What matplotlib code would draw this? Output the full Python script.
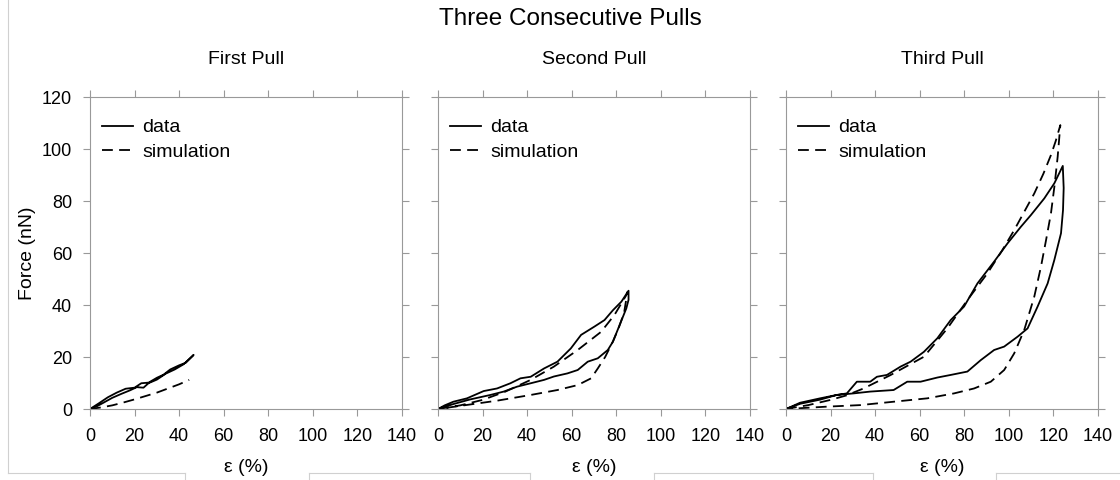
import matplotlib
matplotlib.use("Agg")
import matplotlib.pyplot as plt
from matplotlib.lines import Line2D

plt.rcParams['font.family'] = ['Liberation Sans', 'DejaVu Sans']

# ---- data (strain in %, force in nN) ----
# first pull
p1_data_x = [0, 4, 8, 12, 16, 20, 23, 27, 30, 34, 38, 42, 46.5,
             43, 40, 36, 33, 30, 27, 24, 21, 18, 14, 10, 6, 3, 0]
p1_data_y = [0, 2.2, 4.5, 6.3, 7.8, 8.2, 9.9, 10.2, 11.3, 13.6, 15.2, 17.2, 20.8,
             17.8, 16.8, 15.2, 13.2, 12.0, 10.5, 8.2, 8.4, 7.2, 5.8, 4.3, 2.4, 1.0, 0]
p1_sim_x = [0, 5, 10, 15, 20, 25, 30, 35, 40, 44.5]
p1_sim_y = [0, 0.6, 1.4, 2.5, 3.7, 5.0, 6.3, 7.9, 9.5, 11.2]

# second pull
p2_data_x = [0, 3, 6.9, 13, 20.5, 26.5, 32.5, 37, 41.6, 47.6, 53.6, 59.6, 64.2, 70.2,
             74.7, 78.5, 82.3, 85.5,
             85.5, 84.5, 81.5, 78.5, 76.2, 71.7, 67.2, 62.7, 58.1, 52, 47.6, 41.6,
             35.5, 29.5, 23.5, 14.5, 6.9, 0]
p2_data_y = [0, 1.4, 2.8, 4.1, 6.9, 7.9, 9.9, 11.8, 12.4, 15.6, 18.2, 23.3, 28.5, 31.7,
             34.2, 38.0, 41.3, 45.5,
             42.0, 38.7, 32.3, 25.9, 22.7, 19.5, 18.2, 15.0, 13.7, 12.5, 11.2, 9.9,
             8.6, 6.7, 5.4, 3.7, 1.9, 0]
p2_sim_x = [0, 10, 20, 30, 41.6, 52, 62.7, 73.2, 79.2, 84.5, 85,
            83.5, 81, 78.5, 75, 71.7, 68.7, 62.7, 53.6, 41.6, 26.5, 10, 0]
p2_sim_y = [0, 1.4, 3.5, 6.6, 11.2, 16.3, 22.7, 29.7, 36.2, 43.8, 45,
            37, 31, 26, 20, 15.6, 11.8, 9.2, 7.3, 5.4, 3.2, 1.2, 0]

# third pull
p3_data_x = [0, 6.3, 15.3, 22.8, 27.3, 31.8, 37.8, 40.8, 45.3, 51.4, 55.9, 61.9,
             67.9, 73.9, 79.9, 85.9, 93.4, 99.4, 105.4, 109.9, 115.9, 120.4, 124.2,
             124.6, 124.3, 123.4, 120.4, 117.4, 112.9, 108.4, 103.9, 97.9, 93.4,
             87.4, 81.4, 73.9, 67.9, 60.4, 54.4, 48.3, 37.8, 30.3, 22.8, 15.3, 6.3, 0]
p3_data_y = [0, 2.4, 4.1, 5.4, 6.0, 10.5, 10.5, 12.4, 13.1, 16.3, 18.2, 22.0,
             27.2, 34.2, 39.4, 48.3, 56.7, 63.7, 70.1, 74.6, 81.0, 86.8, 93.5,
             85.0, 76.5, 67.6, 57.3, 48.3, 39.4, 31.0, 27.8, 24.0, 22.7,
             18.8, 14.4, 13.1, 12.1, 10.5, 10.5, 7.3, 6.7, 6.0, 5.4, 3.6, 2.0, 0]
p3_sim_x = [0, 10, 20, 27, 34.8, 46.8, 61.9, 72.4, 81.4, 90.4, 97, 102.4, 107,
            111.4, 115.5, 118.9, 121, 123.1,
            121.9, 120.5, 118.9, 116.7, 114.4, 111.4, 106.9, 102.4, 97.9, 91.9,
            84.4, 75.4, 63.4, 48.3, 33.3, 18.3, 0]
p3_sim_y = [0, 1.5, 3.5, 5.2, 7.9, 13.0, 20.1, 31.0, 41.9, 52.2, 61.0, 68.8, 76.0,
            82.9, 90.5, 97.7, 103, 109.2,
            97.0, 86.0, 75.3, 65.0, 54.7, 43.2, 30.4, 21.4, 15.0, 10.5,
            7.9, 6.0, 4.1, 2.8, 1.5, 0.9, 0]

titles = ['First Pull', 'Second Pull', 'Third Pull']
data_x = [p1_data_x, p2_data_x, p3_data_x]
data_y = [p1_data_y, p2_data_y, p3_data_y]
sim_x = [p1_sim_x, p2_sim_x, p3_sim_x]
sim_y = [p1_sim_y, p2_sim_y, p3_sim_y]

fig = plt.figure(figsize=(11.2, 4.8), dpi=100)
lefts = [90, 438, 786]
axcol = '#999999'

for i in range(3):
    ax = fig.add_axes([lefts[i] / 1120, 71 / 480, 312 / 1120, 312 / 480])
    ax.plot(data_x[i], data_y[i], color='black', lw=1.3, label='data')
    ax.plot(sim_x[i], sim_y[i], color='black', lw=1.3, dashes=(6, 3.5),
            label='simulation')
    ax.set_xlim(0, 140)
    ax.set_ylim(0, 120)
    ax.set_xticks(range(0, 141, 20))
    ax.set_yticks(range(0, 121, 20))
    ax.tick_params(direction='out', length=5, width=0.8, color=axcol,
                   top=True, right=True, labelsize=13, pad=8)
    ax.tick_params(axis='x', pad=9)
    if i > 0:
        ax.tick_params(labelleft=False)
    for s in ax.spines.values():
        s.set_color(axcol)
        s.set_linewidth(0.8)
    ax.set_xlabel('ε (%)', fontsize=14, labelpad=10,
                  bbox=dict(facecolor='white', edgecolor='none', pad=0))
    if i == 0:
        ax.set_ylabel('Force (nN)', fontsize=14, labelpad=4)
    ax.text(0.5, 1.12, titles[i], transform=ax.transAxes, ha='center',
            va='center', fontsize=14)
    ax.legend(loc='upper left', frameon=False, fontsize=14, handlelength=1.6,
              handletextpad=0.5, labelspacing=0.36, borderpad=0,
              borderaxespad=0, bbox_to_anchor=(0.037, 0.93))

fig.text(0.509, 1 - 19 / 480, 'Three Consecutive Pulls', ha='center',
         va='center', fontsize=17.5)

# light frame fragments around the figure
fc = '#d0d0d0'
W, H = 1120.0, 480.0
yb = (H - 473) / H
fig.add_artist(Line2D([7.5 / W, 7.5 / W], [1, yb], color=fc, lw=0.8))
for a, b in [(7.5, 185), (309, 530), (654, 873), (996, 1120)]:
    fig.add_artist(Line2D([a / W, b / W], [yb, yb], color=fc, lw=0.8))
for xv in [185, 309, 530, 654, 873, 996]:
    fig.add_artist(Line2D([xv / W, xv / W], [yb, 0], color=fc, lw=0.8))

fig.savefig('out.png', dpi=100)
